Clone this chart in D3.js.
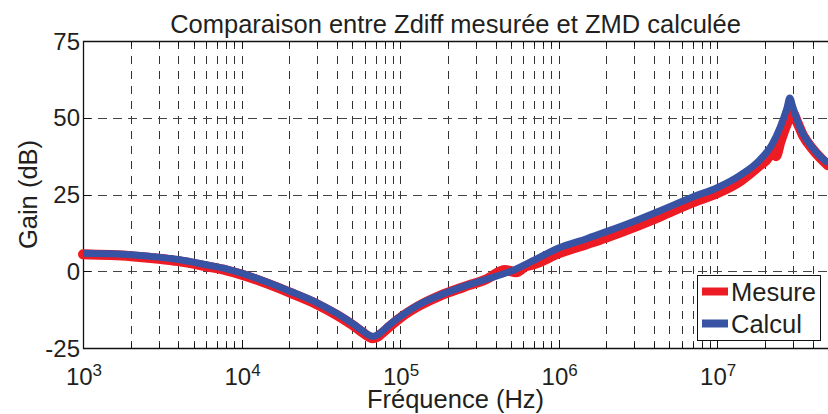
<!DOCTYPE html>
<html>
<head>
<meta charset="utf-8">
<script src="https://cdn.jsdelivr.net/npm/d3@7"></script>
<style>
  body { margin: 0; background: #fff; }
  svg text { font-family: "Liberation Sans", Arial, Helvetica, sans-serif; fill: #231f20; }
</style>
</head>
<body>
<svg id="chart" width="828" height="414"></svg>
<script>
// data (frequency in Hz, gain in dB)
var calculFreq = [1e3, 1.5e3, 2e3, 3e3, 4e3, 6e3, 8e3, 1e4, 1.5e4, 2e4, 3e4, 4e4, 5e4, 5.8e4, 6.3e4, 6.7e4, 7.1e4, 7.6e4, 8.5e4,
                  1e5, 1.3e5, 1.78e5, 2.5e5, 3.5e5, 5e5, 7e5, 1e6, 1.5e6, 2e6, 3e6, 4.4e6, 7e6, 1e7, 1.4e7,
                  1.86e7, 2.2e7, 2.5e7, 2.75e7, 2.87e7, 3e7, 3.3e7, 4e7, 5e7];
var calculGain = [5.9, 5.7, 5.4, 4.6, 3.8, 2.1, 0.8, -0.6, -3.8, -6.4, -10.3, -13.8, -17.0, -19.4, -20.7, -21.2, -20.9, -19.8, -17.6,
                  -14.8, -11.0, -7.8, -5.0, -2.6, 0.0, 3.6, 7.6, 10.6, 12.9, 16.3, 19.8, 24.2, 27.2, 31.3,
                  36.3, 41, 47, 53, 56.4, 53.5, 47.2, 40.2, 35.2];

var mesureFreq = [1e3, 2e3, 3e3, 4e3, 6e3, 8e3, 1e4, 1.5e4, 2e4, 3e4, 4e4, 5e4, 5.8e4, 6.3e4, 6.7e4, 7.1e4, 7.6e4, 8.5e4,
                  1e5, 1.3e5, 1.78e5, 2.5e5, 3.5e5, 4.6e5, 5.4e5, 6.2e5, 7e5, 1e6, 1.5e6, 2e6, 3e6, 4.4e6,
                  7e6, 1e7, 1.4e7, 1.86e7, 2.1e7, 2.25e7, 2.35e7, 2.5e7, 2.75e7, 3e7, 3.2e7, 3.5e7, 4e7, 5e7];
var mesureGain = [5.5, 4.9, 4.1, 3.3, 1.6, 0.3, -1.1, -4.3, -6.9, -10.8, -14.3, -17.5, -19.9, -21.2, -21.8, -21.5, -20.4, -18.2,
                  -15.2, -11.4, -8.0, -5.2, -2.6, 0.4, -0.3, 1.6, 2.3, 5.8, 8.8, 11.0, 14.4, 17.9,
                  22.4, 25.4, 29.4, 34.5, 37, 40.5, 37.5, 42, 48, 51.5, 48.5, 44, 39.8, 34.5];

var yTicks = [-25, 0, 25, 50, 75];
var xDecades = [3, 4, 5, 6, 7];
var legendLabels = ["Mesure", "Calcul"];
var seriesColors = ["#ed1c24", "#3953a4"];

var svg = d3.select("#chart");
var plotLeft = 83, plotRight = 828, plotTop = 41, plotBottom = 348;

var x = d3.scaleLog().domain([1e3, 5e7]).range([plotLeft, plotRight]);
var y = d3.scaleLinear().domain([-25, 75]).range([plotBottom, plotTop]);

// every 1..9 x 10^n position inside the domain
var gridFreqs = [];
for (var d = 3; d <= 7; d++) {
  for (var m = 1; m <= 9; m++) {
    var f = m * Math.pow(10, d);
    if (f > 1e3 && f <= 5e7) gridFreqs.push(f);
  }
}

// vertical dashed grid
svg.append("g").selectAll("line").data(gridFreqs).join("line")
  .attr("x1", function(f){ return Math.round(x(f)) + 0.5; })
  .attr("x2", function(f){ return Math.round(x(f)) + 0.5; })
  .attr("y1", plotTop).attr("y2", plotBottom)
  .style("stroke", "#333").style("stroke-width", 1)
  .style("stroke-dasharray", "8,7");

// horizontal dashed grid
svg.append("g").selectAll("line").data(yTicks.filter(function(v){ return v > -25 && v < 75; })).join("line")
  .attr("x1", plotLeft).attr("x2", plotRight)
  .attr("y1", function(v){ return Math.round(y(v)) + 0.5; })
  .attr("y2", function(v){ return Math.round(y(v)) + 0.5; })
  .style("stroke", "#444").style("stroke-width", 1)
  .style("stroke-dasharray", "9,6");

// x ticks on bottom (up) and top (down)
var isMajor = function(f){ return Math.abs(Math.log10(f) - Math.round(Math.log10(f))) < 1e-9; };
[plotBottom, plotTop].forEach(function(yy){
  var dir = yy == plotBottom ? -1 : 1;
  svg.append("g").selectAll("line").data(gridFreqs).join("line")
    .attr("x1", function(f){ return Math.round(x(f)) + 0.5; })
    .attr("x2", function(f){ return Math.round(x(f)) + 0.5; })
    .attr("y1", yy).attr("y2", function(f){ return yy + dir * (isMajor(f) ? 8 : 5); })
    .style("stroke", "#111").style("stroke-width", 1);
});

// y ticks
svg.append("g").selectAll("line").data(yTicks).join("line")
  .attr("x1", plotLeft).attr("x2", plotLeft + 8)
  .attr("y1", function(v){ return Math.round(y(v)) + 0.5; })
  .attr("y2", function(v){ return Math.round(y(v)) + 0.5; })
  .style("stroke", "#111").style("stroke-width", 1);

// axes lines
svg.append("path")
  .attr("d", "M" + plotRight + "," + (plotTop + 0.5) + "H" + (plotLeft + 0.5) + "V" + (plotBottom + 0.5) + "H" + plotRight)
  .style("fill", "none").style("stroke", "#111").style("stroke-width", 1.3);

// curves
var line = d3.line()
  .x(function(p){ return x(p[0]); })
  .y(function(p){ return y(p[1]); })
  .curve(d3.curveMonotoneX);

svg.append("defs").append("clipPath").attr("id", "plotClip")
  .append("rect").attr("x", 0).attr("y", plotTop - 20).attr("width", plotRight).attr("height", plotBottom - plotTop + 40);

var plot = svg.append("g").attr("clip-path", "url(#plotClip)");

plot.append("path")
  .attr("d", line(d3.zip(mesureFreq, mesureGain)))
  .style("fill", "none").style("stroke", seriesColors[0])
  .style("stroke-width", 10).style("stroke-linecap", "round").style("stroke-linejoin", "round");

plot.append("path")
  .attr("d", line(d3.zip(calculFreq, calculGain)))
  .style("fill", "none").style("stroke", seriesColors[1])
  .style("stroke-width", 7).style("stroke-linecap", "butt").style("stroke-linejoin", "round");

// y tick labels
svg.append("g").selectAll("text").data(yTicks).join("text")
  .attr("x", plotLeft - 3)
  .attr("y", function(v){ return y(v) + 8.5; })
  .attr("text-anchor", "end")
  .style("font-size", "24px")
  .text(function(v){ return v; });

// x tick labels 10^n
var xl = svg.append("g").selectAll("text").data(xDecades).join("text")
  .attr("x", function(d){ return x(Math.pow(10, d)) + 1; })
  .attr("y", 385)
  .attr("text-anchor", "middle")
  .style("font-size", "24px");
xl.append("tspan").text("10");
xl.append("tspan").attr("dy", -9).style("font-size", "17px").text(function(d){ return d; });

// titles
svg.append("text")
  .attr("x", (plotLeft + plotRight) / 2).attr("y", 33)
  .attr("text-anchor", "middle").style("font-size", "25.5px")
  .text("Comparaison entre Zdiff mesurée et ZMD calculée");

svg.append("text")
  .attr("x", (plotLeft + plotRight) / 2).attr("y", 408)
  .attr("text-anchor", "middle").style("font-size", "25.5px")
  .text("Fréquence (Hz)");

svg.append("text")
  .attr("transform", "translate(37," + ((plotTop + plotBottom) / 2) + ") rotate(-90)")
  .attr("text-anchor", "middle").style("font-size", "25.5px")
  .text("Gain (dB)");

// legend
var lg = svg.append("g");
lg.append("rect")
  .attr("x", 697.5).attr("y", 275.5).attr("width", 123).attr("height", 65)
  .style("fill", "#fff").style("stroke", "#111").style("stroke-width", 1);

var rows = lg.selectAll("g").data(legendLabels).join("g")
  .attr("transform", function(d, i){ return "translate(0," + (291.5 + i * 32) + ")"; });
rows.append("line")
  .attr("x1", 702).attr("x2", 728).attr("y1", 0).attr("y2", 0)
  .style("stroke", function(d, i){ return seriesColors[i]; })
  .style("stroke-width", 8);
rows.append("text")
  .attr("x", 731).attr("y", 9.5)
  .style("font-size", "25.5px")
  .text(function(d){ return d; });
</script>
</body>
</html>
